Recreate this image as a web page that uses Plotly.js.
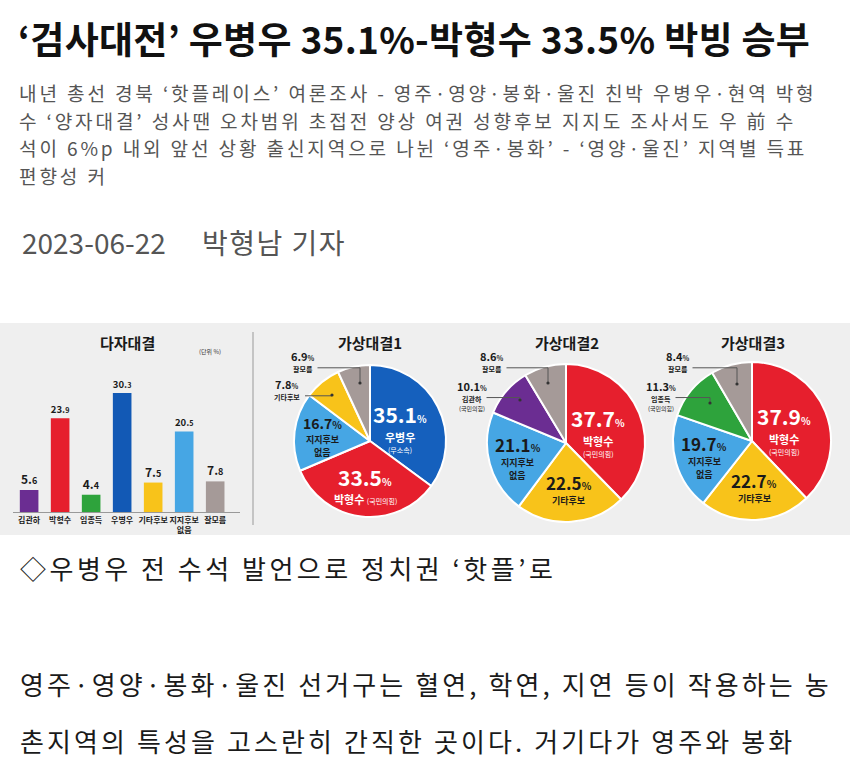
<!DOCTYPE html>
<html>
<head>
<meta charset="utf-8">
<script src="https://cdn.plot.ly/plotly-3.0.1.min.js"></script>
<style>
html,body{margin:0;padding:0;background:#fff;}
#chart{width:850px;height:759px;}
</style>
</head>
<body>
<div id="chart"></div>
<script>
// ---- data ----
const barCategories = ['김관하','박형수','임종득','우병우','기타후보','지지후보<br>없음','잘모름'];
const barValues = [5.6, 23.9, 4.4, 30.3, 7.5, 20.5, 7.8];
const barColors = ['#6b2d92','#e61f2d','#2ea33c','#1259b5','#f8c31a','#46a6e4','#a59a98'];

const pie1Labels = ['우병우','박형수','지지후보없음','기타후보','잘모름'];
const pie1Values = [35.1, 33.5, 16.7, 7.8, 6.9];
const pie1Colors = ['#1560bd','#e61f2d','#46a6e4','#f8c31a','#a59a98'];

const pie2Labels = ['박형수','기타후보','지지후보없음','김관하','잘모름'];
const pie2Values = [37.7, 22.5, 21.1, 10.1, 8.6];
const pie2Colors = ['#e61f2d','#f8c31a','#46a6e4','#6b2d92','#a59a98'];

const pie3Labels = ['박형수','기타후보','지지후보없음','임종득','잘모름'];
const pie3Values = [37.9, 22.7, 19.7, 11.3, 8.4];
const pie3Colors = ['#e61f2d','#f8c31a','#46a6e4','#2ea33c','#a59a98'];

const W = 850, H = 759;
const FONT = 'Noto Sans CJK KR, Noto Sans, sans-serif';
const px = x => x / W;
const py = y => 1 - y / H;
const darkText = '#1a1a1a';
const LH = 1.42;

function barText(v){
  const s = v.toFixed(1).split('.');
  return '<b>' + s[0] + '.<span style="font-size:9px">' + s[1] + '</span></b>';
}
function pct(v, small){
  return '<b>' + v.toFixed(1) + '<span style="font-size:' + small + 'px">%</span></b>';
}
const party = {'우병우':'(무소속)','박형수':'(국민의힘)','김관하':'(국민의힘)','임종득':'(국민의힘)'};

const annotations = [];
const shapes = [];

// stack of single-line annotations centred on (cx, cy)
function stack(cx, cy, lines, color){
  const hs = lines.map(l => l.size * LH);
  const total = hs.reduce((a, b) => a + b, 0);
  let y = cy - total / 2;
  lines.forEach((l, i) => {
    annotations.push({xref:'paper', yref:'paper', x: px(cx), y: py(y), text: l.text, showarrow: false,
      xanchor: 'center', yanchor: 'top', borderpad: 0,
      font: {family: FONT, size: l.size, color: color}});
    y += hs[i];
  });
}

const traces = [];
traces.push({
  type: 'bar', x: barCategories, y: barValues, width: 0.6,
  marker: {color: barColors},
  text: barValues.map(barText), textposition: 'outside', cliponaxis: false,
  textfont: {family: FONT, size: 12, color: darkText},
  xaxis: 'x', yaxis: 'y', hoverinfo: 'skip'
});

function addPie(labels, values, colors, cx, cy, d, inlineParty){
  traces.push({
    type: 'pie', labels: labels, values: values, sort: false, direction: 'clockwise', rotation: 0,
    marker: {colors: colors, line: {color: '#ffffff', width: 2}},
    textinfo: 'none',
    domain: {x: [px(cx - d/2), px(cx + d/2)], y: [py(cy + d/2), py(cy - d/2)]},
    showlegend: false, hoverinfo: 'skip'
  });
  // labels of the three big slices, at each slice's mid-angle
  const total = values.reduce((a, b) => a + b, 0);
  const r = d / 2;
  const radial = [0.44, 0.56, 0.63];
  let cum = 0;
  values.forEach((v, i) => {
    const mid = (cum + v / 2) / total * 2 * Math.PI;
    cum += v;
    if (i > 2) return;
    const x = cx + Math.sin(mid) * r * radial[i];
    const y = cy - Math.cos(mid) * r * radial[i];
    const big = v > 30 ? 21 : (v > 19 ? 17 : 14);
    const nameSize = v > 30 ? 11 : 9;
    const white = colors[i] === '#1560bd' || colors[i] === '#e61f2d';
    const lines = [{text: pct(v, 10), size: big}];
    const tag = party[labels[i]] ? '<span style="font-size:7px">' + party[labels[i]] + '</span>' : '';
    if (labels[i] === '지지후보없음') {
      lines.push({text: '<b>지지후보</b>', size: nameSize});
      lines.push({text: '<b>없음</b>', size: nameSize});
    } else if (tag && inlineParty && i === 1) {
      lines.push({text: '<b>' + labels[i] + '</b> ' + tag, size: nameSize});
    } else {
      lines.push({text: '<b>' + labels[i] + '</b>', size: nameSize});
      if (tag) lines.push({text: party[labels[i]], size: 7});
    }
    stack(x, y, lines, white ? '#ffffff' : darkText);
  });
}
addPie(pie1Labels, pie1Values, pie1Colors, 370, 441, 152, true);
addPie(pie2Labels, pie2Values, pie2Colors, 566, 443, 158, false);
addPie(pie3Labels, pie3Values, pie3Colors, 752, 441, 158, false);

// small outside labels with elbow leader line ending in a dot
function smallLabel(tx, ty, dotx, doty, v, name, partyTag){
  const lines = [{text: pct(v, 7), size: 11}, {text: '<b>' + name + '</b>', size: 7}];
  if (partyTag) lines.push({text: partyTag, size: 6});
  stack(tx, ty, lines, darkText);
  const hs = lines.map(l => l.size * LH);
  const total = hs.reduce((a, b) => a + b, 0);
  const ly = ty - total / 2 + hs[0] + hs[1] / 2;
  const sx = tx + name.length * 3.5 + 4;
  shapes.push({type:'path', xref:'paper', yref:'paper',
    path: 'M' + px(sx) + ',' + py(ly) + ' L' + px(dotx) + ',' + py(ly) + ' L' + px(dotx) + ',' + py(doty),
    line: {color: '#555', width: 1}});
  shapes.push({type:'circle', xref:'paper', yref:'paper', x0: px(dotx - 1.6), x1: px(dotx + 1.6),
    y0: py(doty + 1.6), y1: py(doty - 1.6), fillcolor: '#333', line: {width: 0}});
}

function txt(x, y, text, size, color, opts){
  return Object.assign({xref:'paper', yref:'paper', x: px(x), y: py(y), text: text, showarrow: false,
    xanchor: 'left', yanchor: 'middle', align: 'left', font: {family: FONT, size: size, color: color}}, opts || {});
}
function ls(text, spacing){
  return '<span style="letter-spacing:' + spacing + 'px">' + text + '</span>';
}

const subtitle = [
  '내년 총선 경북 ‘핫플레이스’ 여론조사 - 영주·영양·봉화·울진 친박 우병우·현역 박형',
  '수 ‘양자대결’ 성사땐 오차범위 초접전 양상 여권 성향후보 지지도 조사서도 우 前 수',
  '석이 6%p 내외 앞선 상황 출신지역으로 나뉜 ‘영주·봉화’ - ‘영양·울진’ 지역별 득표',
  '편향성 커'
];

annotations.push(
  txt(16, 38, '<b>' + ls('‘검사대전’ 우병우 35.1%-박형수 33.5% 박빙 승부', 0.3) + '</b>', 37, '#111')
);
subtitle.forEach((s, i) => annotations.push(txt(18, 93 + i * 27.7, ls(s, 2.85), 19.1, '#555', {borderpad: 0})));
annotations.push(
  txt(20, 242, '2023-06-22', 28, '#555'),
  txt(200, 242, ls('박형남 기자', 1.5), 28, '#555'),
  txt(127, 342, '<b>다자대결</b>', 15, darkText, {xanchor:'center'}),
  txt(210, 351, '(단위 %)', 6, '#333', {xanchor:'center'}),
  txt(370, 342, '<b>가상대결1</b>', 15, darkText, {xanchor:'center'}),
  txt(567, 342, '<b>가상대결2</b>', 15, darkText, {xanchor:'center'}),
  txt(753, 342, '<b>가상대결3</b>', 15, darkText, {xanchor:'center'}),
  txt(18, 567, ls('◇우병우 전 수석 발언으로 정치권 ‘핫플’로', 3.5), 26, darkText),
  txt(18, 683, ls('영주·영양·봉화·울진 선거구는 혈연, 학연, 지연 등이 작용하는 농', 3.1), 26, darkText),
  txt(18, 740, ls('촌지역의 특성을 고스란히 간직한 곳이다. 거기다가 영주와 봉화', 3.1), 26, darkText)
);

smallLabel(303, 360, 360, 383, pie1Values[4], '잘모름');
smallLabel(287, 388, 332, 395, pie1Values[3], '기타후보');
smallLabel(492, 360, 548, 383, pie2Values[4], '잘모름');
smallLabel(472, 394, 520, 400, pie2Values[3], '김관하', '(국민의힘)');
smallLabel(678, 360, 737, 384, pie3Values[4], '잘모름');
smallLabel(661, 394, 710, 403, pie3Values[3], '임종득', '(국민의힘)');

shapes.unshift(
  {type:'rect', xref:'paper', yref:'paper', x0: 0, x1: 1, y0: py(535), y1: py(323), fillcolor:'#efefef', line:{width:0}, layer:'below'},
  {type:'line', xref:'paper', yref:'paper', x0: px(253), x1: px(253), y0: py(525), y1: py(332), line:{color:'#999', width:1}}
);

const layout = {
  width: W, height: H, margin: {l:0, r:0, t:0, b:0},
  paper_bgcolor: '#ffffff', plot_bgcolor: 'rgba(0,0,0,0)',
  font: {family: FONT},
  showlegend: false,
  xaxis: {domain: [px(13), px(240)], range: [-0.52, 6.8], showline: true, linecolor: '#999', linewidth: 1,
    showgrid: false, zeroline: false, ticks: '', tickangle: 0,
    tickfont: {family: FONT, size: 8, color: darkText, weight: 700},
    ticklabelstandoff: 0, fixedrange: true},
  yaxis: {domain: [py(512), py(355)], range: [0, 40], visible: false, fixedrange: true},
  annotations: annotations,
  shapes: shapes
};

Plotly.newPlot('chart', traces, layout, {displayModeBar: false, staticPlot: true});
</script>
</body>
</html>
